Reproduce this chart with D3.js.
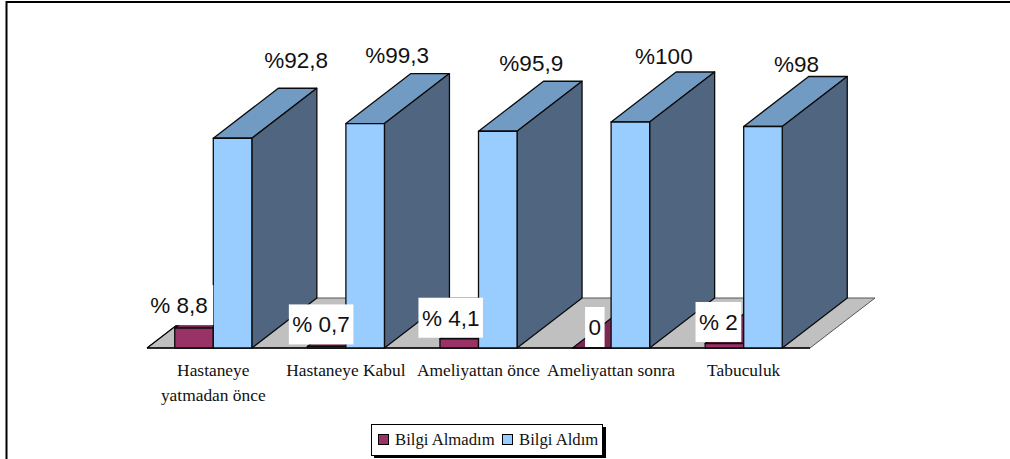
<!DOCTYPE html>
<html>
<head>
<meta charset="utf-8">
<script src="https://cdn.jsdelivr.net/npm/d3@7/dist/d3.min.js"></script>
<style>
html, body { margin: 0; padding: 0; background: #fff; }
svg { display: block; }
</style>
</head>
<body>
<svg id="chart" width="1010" height="459"></svg>
<script>
// Chart values
const categories = ["Hastaneye yatmadan önce", "Hastaneye Kabul", "Ameliyattan önce", "Ameliyattan sonra", "Tabuculuk"];
const seriesNames = ["Bilgi Almadım", "Bilgi Aldım"];
const notInformed = [8.8, 0.7, 4.1, 0, 2];
const informed = [92.8, 99.3, 95.9, 100, 98];
const notInformedLabels = ["% 8,8", "% 0,7", "% 4,1", "0", "% 2"];
const informedLabels = ["%92,8", "%99,3", "%95,9", "%100", "%98"];

// Hand-placed label offsets, relative to the top centre of each bar's front face
const notInformedNudge = [[-13, -23], [-5.5, -22], [-8.5, -21], [3, -21], [-6, -21.5]];
const notInformedTextShift = [-2, 0, 0, 0, 0];
const informedNudge = [[63.5, -70], [32, -61], [33.5, -60], [33.5, -58], [33.5, -55]];

const depthX = 65, depthY = 50;
const baseline = 348;

const palette = {
  maroon: { front: "#993366", top: "#7a2952", side: "#5c1f3d" },
  blue: { front: "#99ccff", top: "#729bc3", side: "#506680" },
  floor: "#c0c0c0"
};

const svg = d3.select("#chart");

const x0 = d3.scaleBand().domain(categories).range([147, 810]);
const x1 = d3.scaleBand().domain(seriesNames).range([0, x0.bandwidth()]).paddingOuter(0.72).paddingInner(0);
const y = d3.scaleLinear().domain([0, 100]).range([baseline, 122]);

// Page frame along the top and left
svg.append("path")
  .attr("d", d3.line()([[1010, 2], [6.5, 2], [6.5, 459]]))
  .attr("fill", "none").attr("stroke", "#000").attr("stroke-width", 2);

// Floor of the 3D plot
const floorLeft = x0.range()[0], floorRight = x0.range()[1];
svg.append("path")
  .attr("d", d3.line()([[floorLeft, baseline], [floorRight, baseline], [floorRight + depthX, baseline - depthY], [floorLeft + depthX, baseline - depthY]]) + "Z")
  .attr("fill", palette.floor).attr("stroke", "#555").attr("stroke-width", 1);
svg.append("path")
  .attr("d", d3.line()([[floorLeft, baseline], [floorRight, baseline]]))
  .attr("stroke", "#000").attr("stroke-width", 1.6);
svg.append("path")
  .attr("d", d3.line()([[floorLeft, baseline], [floorLeft + depthX, baseline - depthY]]))
  .attr("stroke", "#000").attr("stroke-width", 1.2);

// One extruded column: top and side faces first, front face last
function drawColumn(g, left, width, value, colors) {
  const top = y(value), right = left + width;
  const face = (pts, fill) => g.append("path")
    .attr("d", d3.line()(pts) + "Z")
    .attr("fill", fill).attr("stroke", "#0b0b0b").attr("stroke-width", 1.3).attr("stroke-linejoin", "round");
  face([[left, top], [right, top], [right + depthX, top - depthY], [left + depthX, top - depthY]], colors.top);
  face([[right, top], [right + depthX, top - depthY], [right + depthX, baseline - depthY], [right, baseline]], colors.side);
  face([[left, top], [right, top], [right, baseline], [left, baseline]], colors.front);
}

categories.forEach((c, i) => {
  const g = svg.append("g").attr("class", "cluster");
  drawColumn(g, x0(c) + x1(seriesNames[0]), x1.bandwidth(), notInformed[i], palette.maroon);
  drawColumn(g, x0(c) + x1(seriesNames[1]), x1.bandwidth(), informed[i], palette.blue);
});

// Category axis, with long names broken over two lines
const axis = svg.append("g")
  .attr("transform", `translate(0,${baseline})`)
  .call(d3.axisBottom(x0).tickSize(0).tickPadding(0));
axis.select(".domain").remove();
axis.selectAll("text")
  .attr("font-family", "'Liberation Serif', serif")
  .attr("font-size", 17.4)
  .attr("fill", "#111")
  .attr("dy", null)
  .attr("y", 28)
  .text(null)
  .each(function (d) {
    const parts = d === categories[0] ? ["Hastaneye", "yatmadan önce"] : [d];
    parts.forEach((line, k) => {
      d3.select(this).append("tspan").attr("x", 0).attr("y", 28 + k * 25).text(line);
    });
  });

// Value labels on the columns; the short-bar labels carry a white backing box
const labelFont = "'Liberation Sans', Arial, sans-serif";
categories.forEach((c, i) => {
  const cx = x0(c) + x1(seriesNames[0]) + x1.bandwidth() / 2 + notInformedNudge[i][0];
  const cy = y(notInformed[i]) + notInformedNudge[i][1];
  const g = svg.append("g");
  const box = g.append("rect").attr("fill", "#fff");
  const t = g.append("text")
    .attr("x", cx + notInformedTextShift[i]).attr("y", cy + 8)
    .attr("text-anchor", "middle")
    .attr("font-family", labelFont).attr("font-size", 22.5).attr("fill", "#111")
    .text(notInformedLabels[i]);
  const w = t.node().getComputedTextLength() + 7;
  box.attr("x", cx - w / 2).attr("y", cy - 20).attr("width", w).attr("height", 40);
});
categories.forEach((c, i) => {
  svg.append("text")
    .attr("x", x0(c) + x1(seriesNames[1]) + x1.bandwidth() / 2 + informedNudge[i][0])
    .attr("y", y(informed[i]) + informedNudge[i][1])
    .attr("text-anchor", "middle")
    .attr("font-family", labelFont).attr("font-size", 22.5).attr("fill", "#111")
    .text(informedLabels[i]);
});

// Legend with a hard drop shadow
const legend = svg.append("g");
legend.append("rect").attr("x", 374).attr("y", 427).attr("width", 232).attr("height", 31).attr("fill", "#000");
legend.append("rect").attr("x", 371.5).attr("y", 424.5).attr("width", 231).attr("height", 31)
  .attr("fill", "#fff").attr("stroke", "#000").attr("stroke-width", 1);
const swatchX = d3.scaleOrdinal().domain(seriesNames).range([378, 502]);
const swatchColor = d3.scaleOrdinal().domain(seriesNames).range([palette.maroon.front, palette.blue.front]);
seriesNames.forEach(name => {
  legend.append("rect").attr("x", swatchX(name) + 0.5).attr("y", 434.5).attr("width", 10).attr("height", 10)
    .attr("fill", swatchColor(name)).attr("stroke", "#000").attr("stroke-width", 1);
  legend.append("text").attr("x", swatchX(name) + 17).attr("y", 445)
    .attr("font-family", "'Liberation Serif', serif").attr("font-size", 16.7).attr("fill", "#111")
    .text(name);
});
</script>
</body>
</html>
